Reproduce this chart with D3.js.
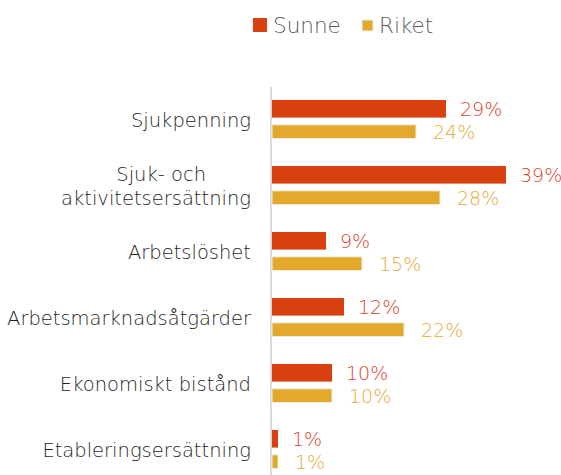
<!DOCTYPE html>
<html>
<head>
<meta charset="utf-8">
<script src="https://cdn.jsdelivr.net/npm/d3@7/dist/d3.min.js"></script>
<style>
  html, body { margin: 0; padding: 0; background: #fff; }
  svg { display: block; font-family: "DejaVu Sans", "Noto Sans", sans-serif; }
</style>
</head>
<body>
<svg id="chart" width="561" height="475"></svg>
<script>
// Categories (each entry is a list of label lines)
const categories = [
  ["Sjukpenning"],
  ["Sjuk- och", "aktivitetsersättning"],
  ["Arbetslöshet"],
  ["Arbetsmarknadsåtgärder"],
  ["Ekonomiskt bistånd"],
  ["Etableringsersättning"]
];
const seriesNames = ["Sunne", "Riket"];
const sunneValues = [29, 39, 9, 12, 10, 1];
const riketValues = [24, 28, 15, 22, 10, 1];

const colors = { Sunne: "#d8400f", Riket: "#e4a82a" };
const labelColors = { Sunne: "#d8431f", Riket: "#e8a934" };

const svg = d3.select("#chart");
const W = 561, H = 475;

const x0 = 272;
const x = d3.scaleLinear().domain([0, 10]).range([x0, x0 + 60]);

const keys = categories.map(c => c.join(" "));
const y = d3.scaleBand().domain(keys).range([88, 88 + 66 * keys.length]).padding(0);

const rows = keys.map((k, i) => ({
  key: k,
  lines: categories[i],
  Sunne: sunneValues[i],
  Riket: riketValues[i]
}));

// Vertical category axis line
svg.append("line")
  .attr("x1", 271).attr("x2", 271)
  .attr("y1", 87).attr("y2", H)
  .attr("stroke", "#d9d9d9").attr("stroke-width", 2);

const barSpec = {
  Sunne: { off: 12, h: 17.6 },
  Riket: { off: 36.8, h: 13.8 }
};

const g = svg.append("g");
seriesNames.forEach(s => {
  g.selectAll("rect." + s)
    .data(rows)
    .join("rect")
    .attr("class", s)
    .attr("x", x(0))
    .attr("y", d => y(d.key) + barSpec[s].off)
    .attr("width", d => x(d[s]) - x(0))
    .attr("height", barSpec[s].h)
    .attr("fill", colors[s])
    .attr("stroke", s === "Riket" ? "#e6f3ef" : "none")
    .attr("stroke-width", s === "Riket" ? 1 : 0);

  g.selectAll("text." + s)
    .data(rows)
    .join("text")
    .attr("class", s)
    .attr("x", d => x(d[s]) + (s === "Sunne" ? 14 : 17))
    .attr("y", d => y(d.key) + barSpec[s].off + barSpec[s].h / 2)
    .attr("dy", "0.36em")
    .attr("fill", labelColors[s])
    .attr("font-size", 19)
    .attr("font-weight", 300)
    .text(d => d[s] + "%");
});

// Category labels
const catG = svg.append("g");
rows.forEach(d => {
  const cy = y(d.key) + 32;
  if (d.lines.length === 1) {
    catG.append("text")
      .attr("x", 251).attr("y", cy)
      .attr("dy", "0.36em")
      .attr("text-anchor", "end")
      .attr("fill", "#1e1e1e")
      .attr("font-size", 19.5)
      .attr("font-weight", 300)
      .text(d.lines[0]);
  } else {
    const t = catG.append("text")
      .attr("y", cy)
      .attr("fill", "#1e1e1e")
      .attr("font-size", 19.5)
      .attr("font-weight", 300)
      .attr("text-anchor", "end");
    t.append("tspan").attr("x", 206).attr("y", cy - 12).attr("dy", "0.36em").text(d.lines[0]);
    t.append("tspan").attr("x", 251).attr("y", cy + 12).attr("dy", "0.36em").text(d.lines[1]);
  }
});

// Legend
const legend = svg.append("g");
const legendItems = [
  { name: "Sunne", sx: 253, sy: 18, size: 14, tx: 273 },
  { name: "Riket", sx: 362, sy: 20, size: 11, tx: 379 }
];
legendItems.forEach(it => {
  legend.append("rect")
    .attr("x", it.sx).attr("y", it.sy)
    .attr("width", it.size).attr("height", it.size)
    .attr("fill", colors[it.name])
    .attr("stroke", it.name === "Riket" ? "#e6f3ef" : "none");
  legend.append("text")
    .attr("x", it.tx).attr("y", 25)
    .attr("dy", "0.36em")
    .attr("fill", "#5a5a5a")
    .attr("font-size", 21.5)
    .attr("font-weight", 300)
    .text(it.name);
});
</script>
</body>
</html>
